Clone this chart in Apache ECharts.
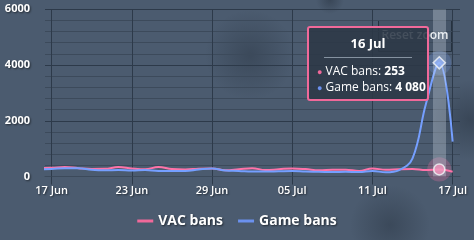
<!DOCTYPE html>
<html><head><meta charset="utf-8">
<script src="https://cdn.jsdelivr.net/npm/echarts@6/dist/echarts.min.js"></script>
<style>html,body{margin:0;padding:0;background:#4a5a6d;}#c{width:474px;height:240px;}</style>
</head><body><div id="c"></div>
<script>
const dates = ['16 Jun','17 Jun','18 Jun','19 Jun','20 Jun','21 Jun','22 Jun','23 Jun','24 Jun','25 Jun','26 Jun','27 Jun','28 Jun','29 Jun','30 Jun',
  '01 Jul','02 Jul','03 Jul','04 Jul','05 Jul','06 Jul','07 Jul','08 Jul','09 Jul','10 Jul','11 Jul','12 Jul','13 Jul','14 Jul','15 Jul','16 Jul','17 Jul'];
const vacBans  = [300,310,340,300,270,275,340,290,260,340,270,255,280,290,225,260,300,230,260,290,265,220,240,245,200,290,240,260,270,230,253,170];
const gameBans = [260,270,300,300,240,220,230,215,230,200,200,195,250,290,215,200,175,175,185,195,175,170,160,170,160,200,150,230,650,2600,4080,1250];
const tickLabels = ['17 Jun','23 Jun','29 Jun','05 Jul','11 Jul','17 Jul'];
const yTicks = [0,2000,4000,6000];
const highlightDate = '16 Jul';

const PINK = '#f0699a', BLUE = '#6b91ee';
const FONT = '"Open Sans", "Noto Sans", sans-serif';
const origin = dates.indexOf(tickLabels[0]);
const dayX = i => i - origin;
const vacData = vacBans.map((v, i) => [dayX(i), v]);
const gameData = gameBans.map((v, i) => [dayX(i), v]);
const tickVals = tickLabels.map(l => dayX(dates.indexOf(l)));
const hi = dates.indexOf(highlightDate);
const fmt = n => String(n).replace(/\B(?=(\d{3})+(?!\d))/g, ' ');
const shadow = {textShadowColor:'rgba(0,0,0,0.55)', textShadowBlur:2, textShadowOffsetX:1, textShadowOffsetY:1};

function blob(cx, cy, rx, ry, a){
  return {type:'ellipse', shape:{cx:cx, cy:cy, rx:rx, ry:ry}, z:-10, silent:true,
    style:{fill:{type:'radial', x:0.5, y:0.5, r:0.5, colorStops:[{offset:0,color:'rgba(30,40,52,'+a+')'},{offset:1,color:'rgba(30,40,52,0)'}]}}};
}

const chart = echarts.init(document.getElementById('c'), null, {renderer:'canvas'});
chart.setOption({
  animation:false,
  backgroundColor:'#4b5b6f',
  grid:{left:45, right:14, top:9.3, bottom:63.5},
  legend:{
    data:['VAC bans','Game bans'], bottom:7, left:'center', icon:'rect', itemWidth:16, itemHeight:3, itemGap:15,
    textStyle:Object.assign({color:'#ffffff', fontSize:14, fontWeight:'bold', fontFamily:FONT}, shadow)
  },
  xAxis:{
    type:'value', min:-0.49, max:30.55,
    axisLine:{show:true, lineStyle:{color:'#3c4a5b'}},
    axisTick:{show:true, customValues:tickVals, length:8, lineStyle:{color:'#2d3a4a'}},
    splitLine:{show:true, lineStyle:{color:'#2d3a4a'}},
    axisLabel:Object.assign({customValues:tickVals, margin:9, color:'#ffffff', fontSize:11, fontWeight:600, fontFamily:FONT,
      formatter:v => tickLabels[tickVals.indexOf(Math.round(v))] || ''}, shadow)
  },
  yAxis:{
    type:'value', min:yTicks[0], max:yTicks[yTicks.length-1], interval:yTicks[1]-yTicks[0],
    axisLine:{show:false}, axisTick:{show:false},
    splitLine:{lineStyle:{color:'#2d3a4a'}},
    minorTick:{show:false, splitNumber:5},
    minorSplitLine:{show:true, lineStyle:{color:'#3c4a5b'}},
    axisLabel:Object.assign({margin:15, color:'#ffffff', fontSize:11, fontWeight:'bold', fontFamily:FONT,
      formatter:v => String(v)}, shadow)
  },
  tooltip:{
    trigger:'axis', triggerOn:'none', alwaysShowContent:true,
    position:[307,26],
    backgroundColor:'rgba(44,56,71,0.88)', borderColor:PINK, borderWidth:2, borderRadius:3,
    padding:[7,8],
    extraCssText:'width:122px;height:75px;box-sizing:border-box;box-shadow:none;',
    axisPointer:{type:'line', lineStyle:{color:'rgba(215,225,235,0.3)', width:13, type:'solid'}},
    formatter:function(params){
      const p = params.find(q => q.seriesIndex === 0) || params[0];
      const i = p.dataIndex;
      return '<div style="font-family:'+FONT.replace(/"/g,"'")+';color:#fff;">'
        + '<div style="text-align:center;font-weight:bold;font-size:13px;line-height:16px;">'+dates[i]+'</div>'
        + '<div style="border-top:1px solid #8592a0;margin:6px 7px 5px 7px;"></div>'
        + '<div style="font-size:12px;line-height:15px;"><span style="color:'+PINK+';font-size:9px;">&#9679;</span> VAC bans: <b>'+fmt(vacBans[i])+'</b></div>'
        + '<div style="font-size:12px;line-height:15px;"><span style="color:'+BLUE+';font-size:9px;">&#9679;</span> Game bans: <b>'+fmt(gameBans[i])+'</b></div>'
        + '</div>';
    }
  },
  graphic:[
    blob(250, 55, 90, 45, 0.35),
    blob(470, 120, 40, 130, 0.4),
    blob(390, 225, 90, 40, 0.35),
    blob(330, 0, 160, 14, 0.4),
    {
    type:'group', left:378, top:20, z:5,
    children:[
      {type:'rect', shape:{x:0,y:0,width:73,height:31}, style:{fill:'rgba(30,40,52,0.12)', stroke:'#26323f', lineWidth:1}},
      {type:'text', x:36.5, y:15.5, style:{text:'Reset zoom', fill:'#eef0f2', font:'600 12px '+FONT, align:'center', verticalAlign:'middle'}}
    ]
  }],
  series:[
    {name:'VAC bans', type:'line', data:vacData, smooth:0.4, showSymbol:false, symbol:'none', color:PINK,
     lineStyle:{color:PINK, width:2}, z:3},
    {name:'Game bans', type:'line', data:gameData, smooth:0.4, showSymbol:false, symbol:'none', color:BLUE,
     lineStyle:{color:BLUE, width:2}, z:3},
    {name:'vac-halo', type:'scatter', data:[vacData[hi]], symbol:'circle', symbolSize:22, itemStyle:{color:PINK, opacity:0.25}, z:4, silent:true},
    {name:'game-halo', type:'scatter', data:[gameData[hi]], symbol:'circle', symbolSize:22, itemStyle:{color:BLUE, opacity:0.22}, z:4, silent:true},
    {name:'vac-mark', type:'scatter', data:[vacData[hi]], symbol:'circle', symbolSize:10, itemStyle:{color:PINK, borderColor:'#ffffff', borderWidth:1.5}, z:5, silent:true},
    {name:'game-mark', type:'scatter', data:[gameData[hi]], symbol:'diamond', symbolSize:11, itemStyle:{color:BLUE, borderColor:'#ffffff', borderWidth:1.5}, z:5, silent:true}
  ]
});
chart.dispatchAction({type:'showTip', seriesIndex:0, dataIndex:hi});
</script>
</body></html>
